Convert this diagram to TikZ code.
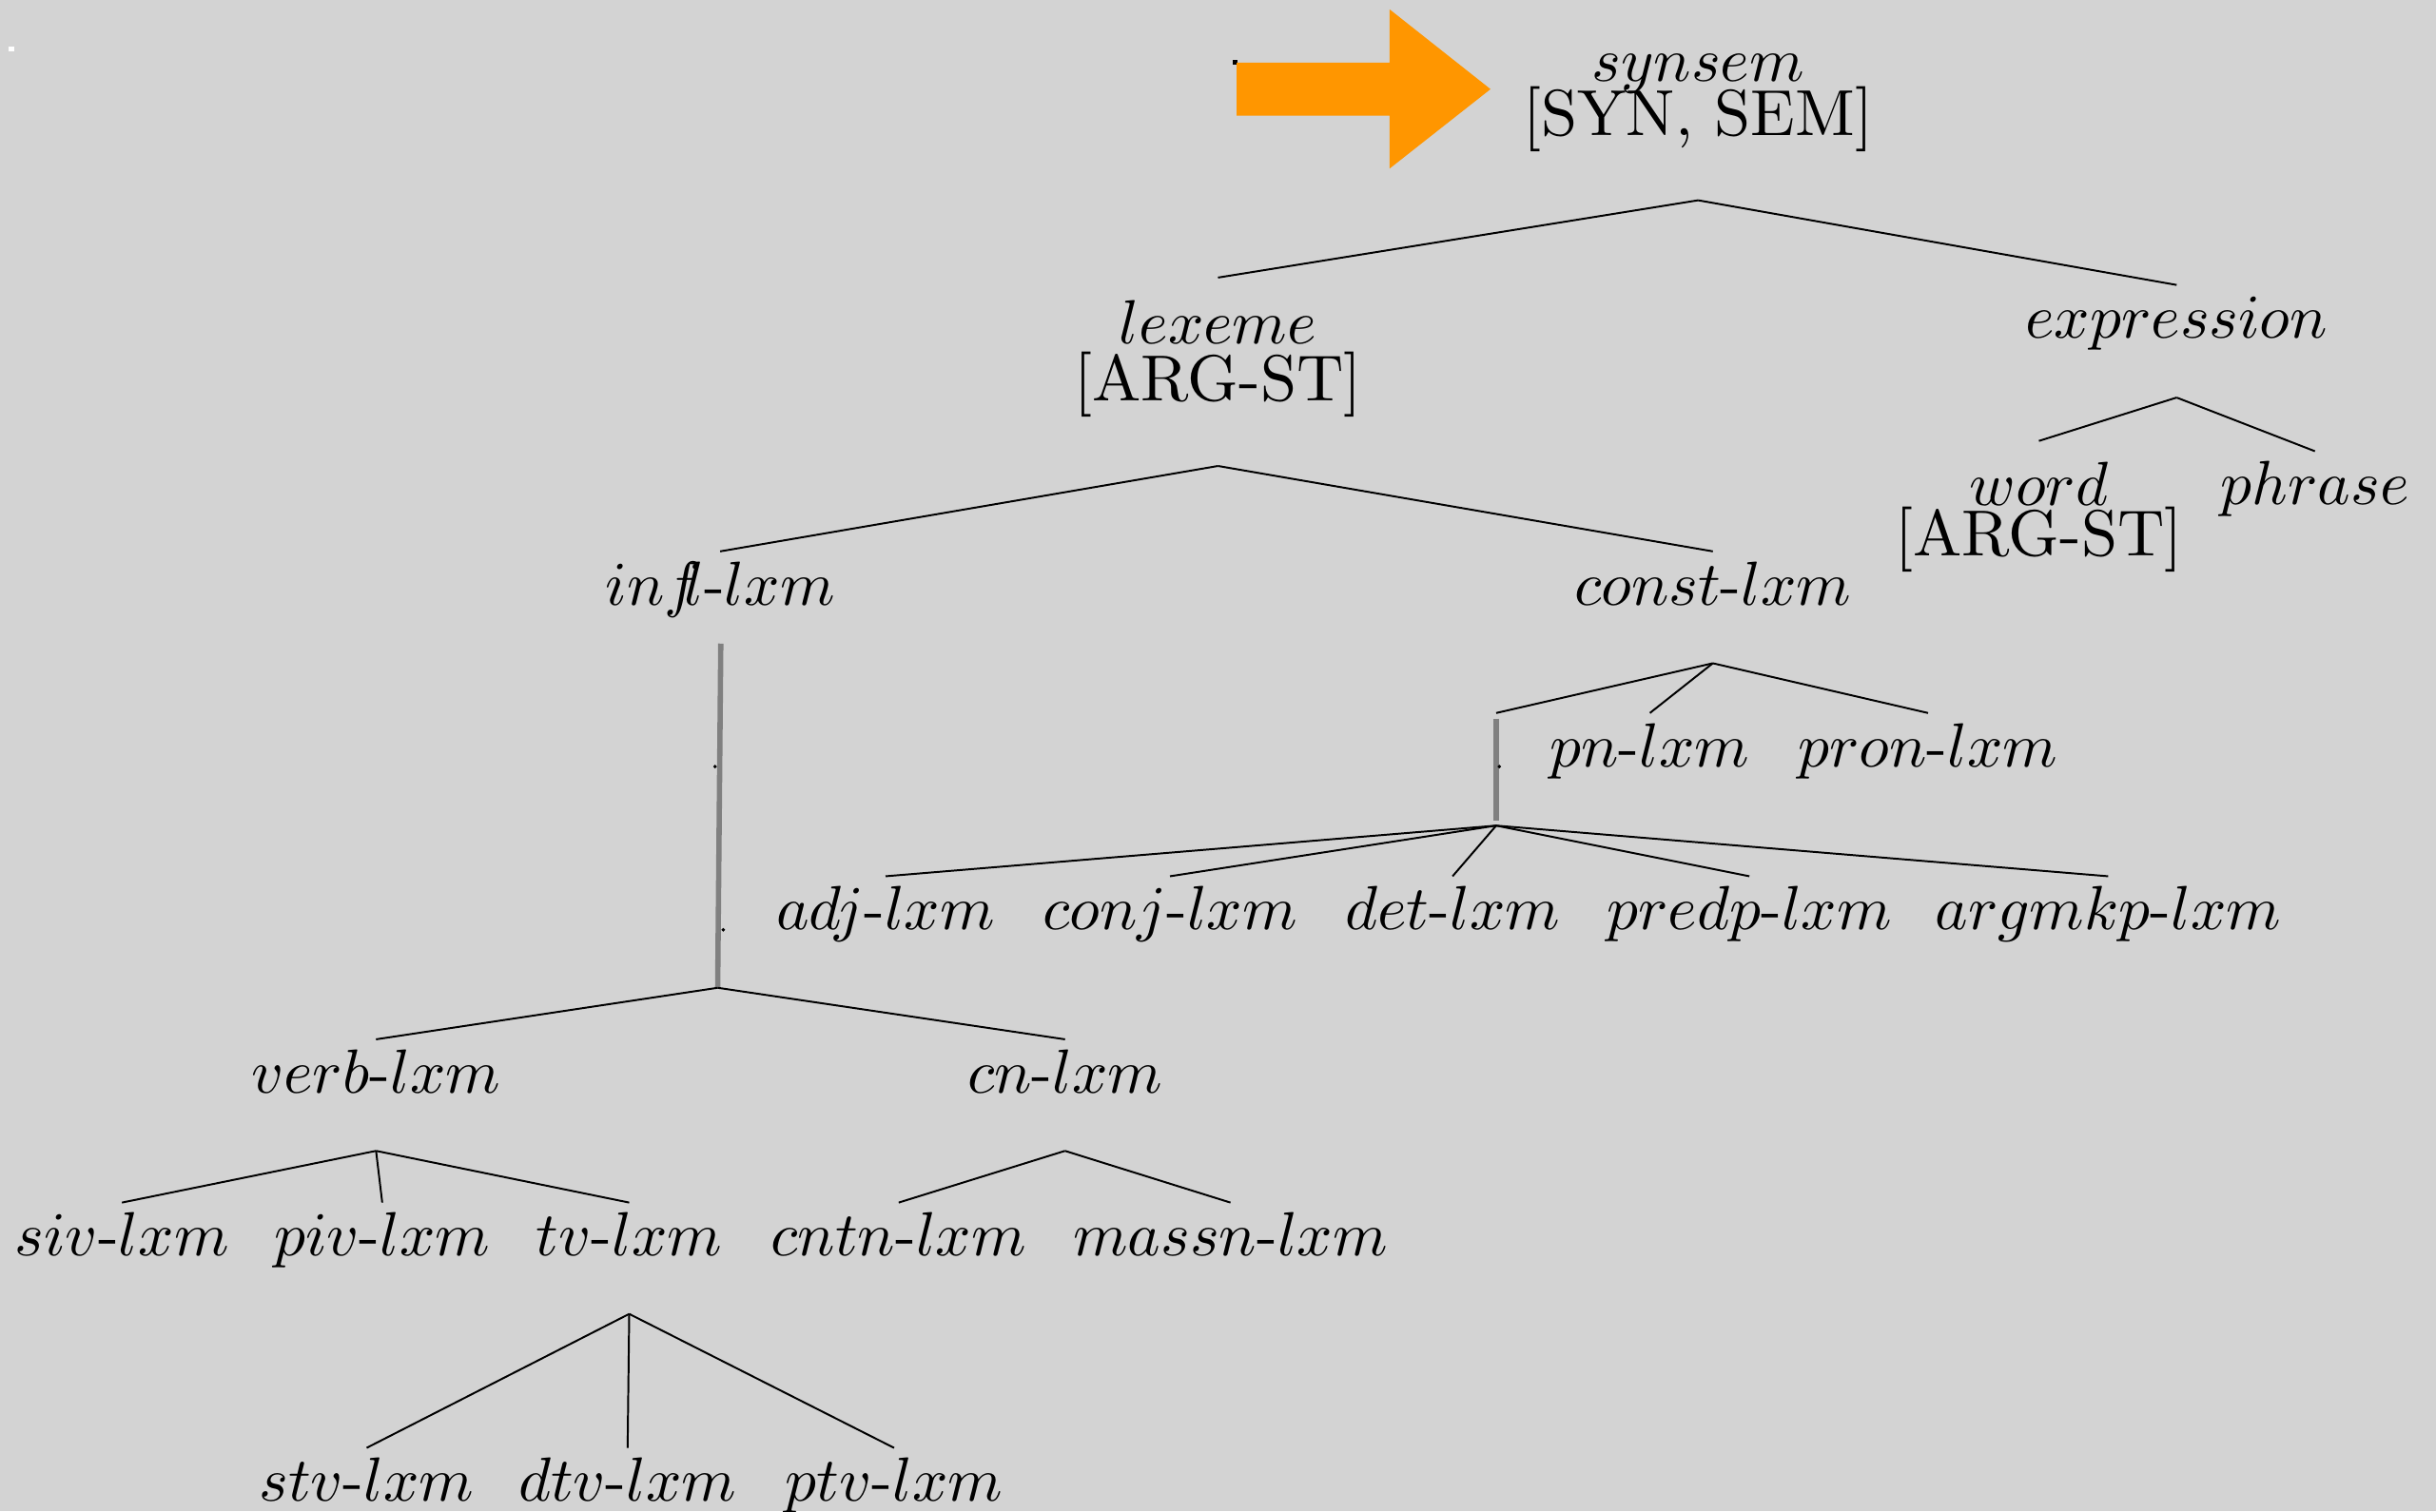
\documentclass[tikz,border=0pt]{standalone}
\usepackage{graphicx}
\usepackage{tikz}
\usetikzlibrary{backgrounds}
\definecolor{bgc}{RGB}{211,211,211}
\definecolor{arrowc}{RGB}{255,150,0}
\newcommand{\featname}[1]{\scalebox{1.045}{#1}}
\tikzstyle{cat} = [anchor=base, inner sep=1.4pt, text height=7pt, text depth=2pt]
\tikzstyle{feat} = [anchor=base, align=center, inner sep=1.4pt]
\tikzstyle{speck} = [rectangle, inner sep=0pt, minimum size=.8pt]
\tikzstyle{branch} = [-, line width=.3pt]
\tikzstyle{gapline} = [-, gray, line width=.85pt]

\begin{document}
\begin{tikzpicture}[background rectangle/.style={fill=bgc}, show background rectangle, inner frame sep=0pt]

    \useasboundingbox (0, 0) rectangle (13.74, -8.526);

    \node (corner) [speck, fill=white] at (0.064, -0.276) {};
    \node (start) [speck, fill=black] at (6.967, -0.351) {};
    \fill [arrowc] (6.975, -0.354) -- (7.838, -0.354) -- (7.838, -0.053) -- (8.407, -0.503) -- (7.838, -0.951) -- (7.838, -0.653) -- (6.975, -0.653) -- cycle;

    % two-line nodes sit on the baseline of their last line
    \node (synsem) [feat] at (9.578, -0.765) {$synsem$\\[-3.3pt]\featname{[SYN, SEM]}};
    \node (lexeme) [feat, text height=18.2pt] at (6.870, -2.262) {$lexeme$\\[-2.8pt]\featname{[ARG-ST]}};
    \node (expression) [cat] at (12.277, -1.910) {$expression$};
    \node (word) [feat, text height=16.9pt] at (11.500, -3.138) {$word$\\[-3.9pt]\featname{[ARG-ST]}};
    \node (phrase) [cat] at (13.057, -2.848) {$phrase$};
    \node (infl) [cat] at (4.062, -3.413) {$inf\mkern-5mu l$-$lxm$};
    \node (const) [cat] at (9.661, -3.413) {$const$-$lxm$};
    \node (infl-g1) [cat] at (4.044, -4.325) {};
    \node (const-g) [cat] at (8.439, -4.325) {};
    \node (pn) [cat] at (9.306, -4.325) {$pn$-$lxm$};
    \node (pron) [cat] at (10.875, -4.325) {$pron$-$lxm$};
    \node (infl-g2) [cat] at (4.062, -5.246) {};
    \node (adj) [cat] at (4.995, -5.246) {$adj$-$lxm$};
    \node (conj) [cat] at (6.599, -5.246) {$conj$-$lxm$};
    \node (det) [cat] at (8.193, -5.246) {$det$-$lxm$};
    \node (predp) [cat] at (9.867, -5.246) {$predp$-$lxm$};
    \node (argmkp) [cat] at (11.891, -5.246) {$argmkp$-$lxm$};
    \node (verb) [cat] at (2.121, -6.166) {$verb$-$lxm$};
    \node (cn) [cat] at (6.007, -6.166) {$cn$-$lxm$};
    \node (siv) [cat] at (0.688, -7.087) {$siv$-$lxm$};
    \node (piv) [cat] at (2.156, -7.087) {$piv$-$lxm$};
    \node (tv) [cat] at (3.549, -7.087) {$tv$-$lxm$};
    \node (cntn) [cat] at (5.069, -7.087) {$cntn$-$lxm$};
    \node (massn) [cat] at (6.940, -7.087) {$massn$-$lxm$};
    \node (stv) [cat] at (2.068, -8.471) {$stv$-$lxm$};
    \node (dtv) [cat] at (3.540, -8.471) {$dtv$-$lxm$};
    \node (ptv) [cat] at (5.043, -8.471) {$ptv$-$lxm$};

    \coordinate (synsem-f) at (9.578, -1.130);
    \coordinate (expression-f) at (12.277, -2.243);
    \coordinate (lexeme-f) at (6.870, -2.629);
    \coordinate (const-f) at (9.661, -3.742);
    \coordinate (const-g-f) at (8.439, -4.658);
    \coordinate (infl-f) at (4.048, -5.573);
    \coordinate (verb-f) at (2.121, -6.493);
    \coordinate (cn-f) at (6.007, -6.493);
    \coordinate (tv-f) at (3.549, -7.413);

    \draw [branch] (synsem-f) -- (lexeme.north);
    \draw [branch] (synsem-f) -- (expression.north);
    \draw [branch] (expression-f) -- (word.north);
    \draw [branch] (expression-f) -- (phrase.north);
    \draw [branch] (lexeme-f) -- (infl.north);
    \draw [branch] (lexeme-f) -- (const.north);

    \draw [gapline] ([xshift=.1pt, yshift=-2.6pt]infl.south) -- (infl-f);
    \draw [branch] (infl-f) -- (verb.north);
    \draw [branch] (infl-f) -- (cn.north);

    \draw [branch] (const-f) -- (const-g.north);
    \draw [branch] (const-f) -- (pn.north);
    \draw [branch] (const-f) -- (pron.north);
    \draw [gapline] ([yshift=-.9pt]const-g.north) -- ([yshift=.8pt]const-g-f);
    \foreach \leaf in {adj, conj, det, predp, argmkp}
        \draw [branch] (const-g-f) -- (\leaf.north);

    \draw [branch] (verb-f) -- (siv.north);
    \draw [branch] (verb-f) -- (piv.north);
    \draw [branch] (verb-f) -- (tv.north);
    \draw [branch] (cn-f) -- (cntn.north);
    \draw [branch] (cn-f) -- (massn.north);
    \draw [branch] (tv-f) -- (stv.north);
    \draw [branch] (tv-f) -- (dtv.north);
    \draw [branch] (tv-f) -- (ptv.north);

    % dots left in the gap nodes
    \fill ([xshift=-.3pt]infl-g1.base) circle (.3pt);
    \fill ([xshift=.5pt]infl-g2.base) circle (.3pt);
    \fill ([xshift=.5pt]const-g.base) circle (.3pt);

\end{tikzpicture}
\end{document}
